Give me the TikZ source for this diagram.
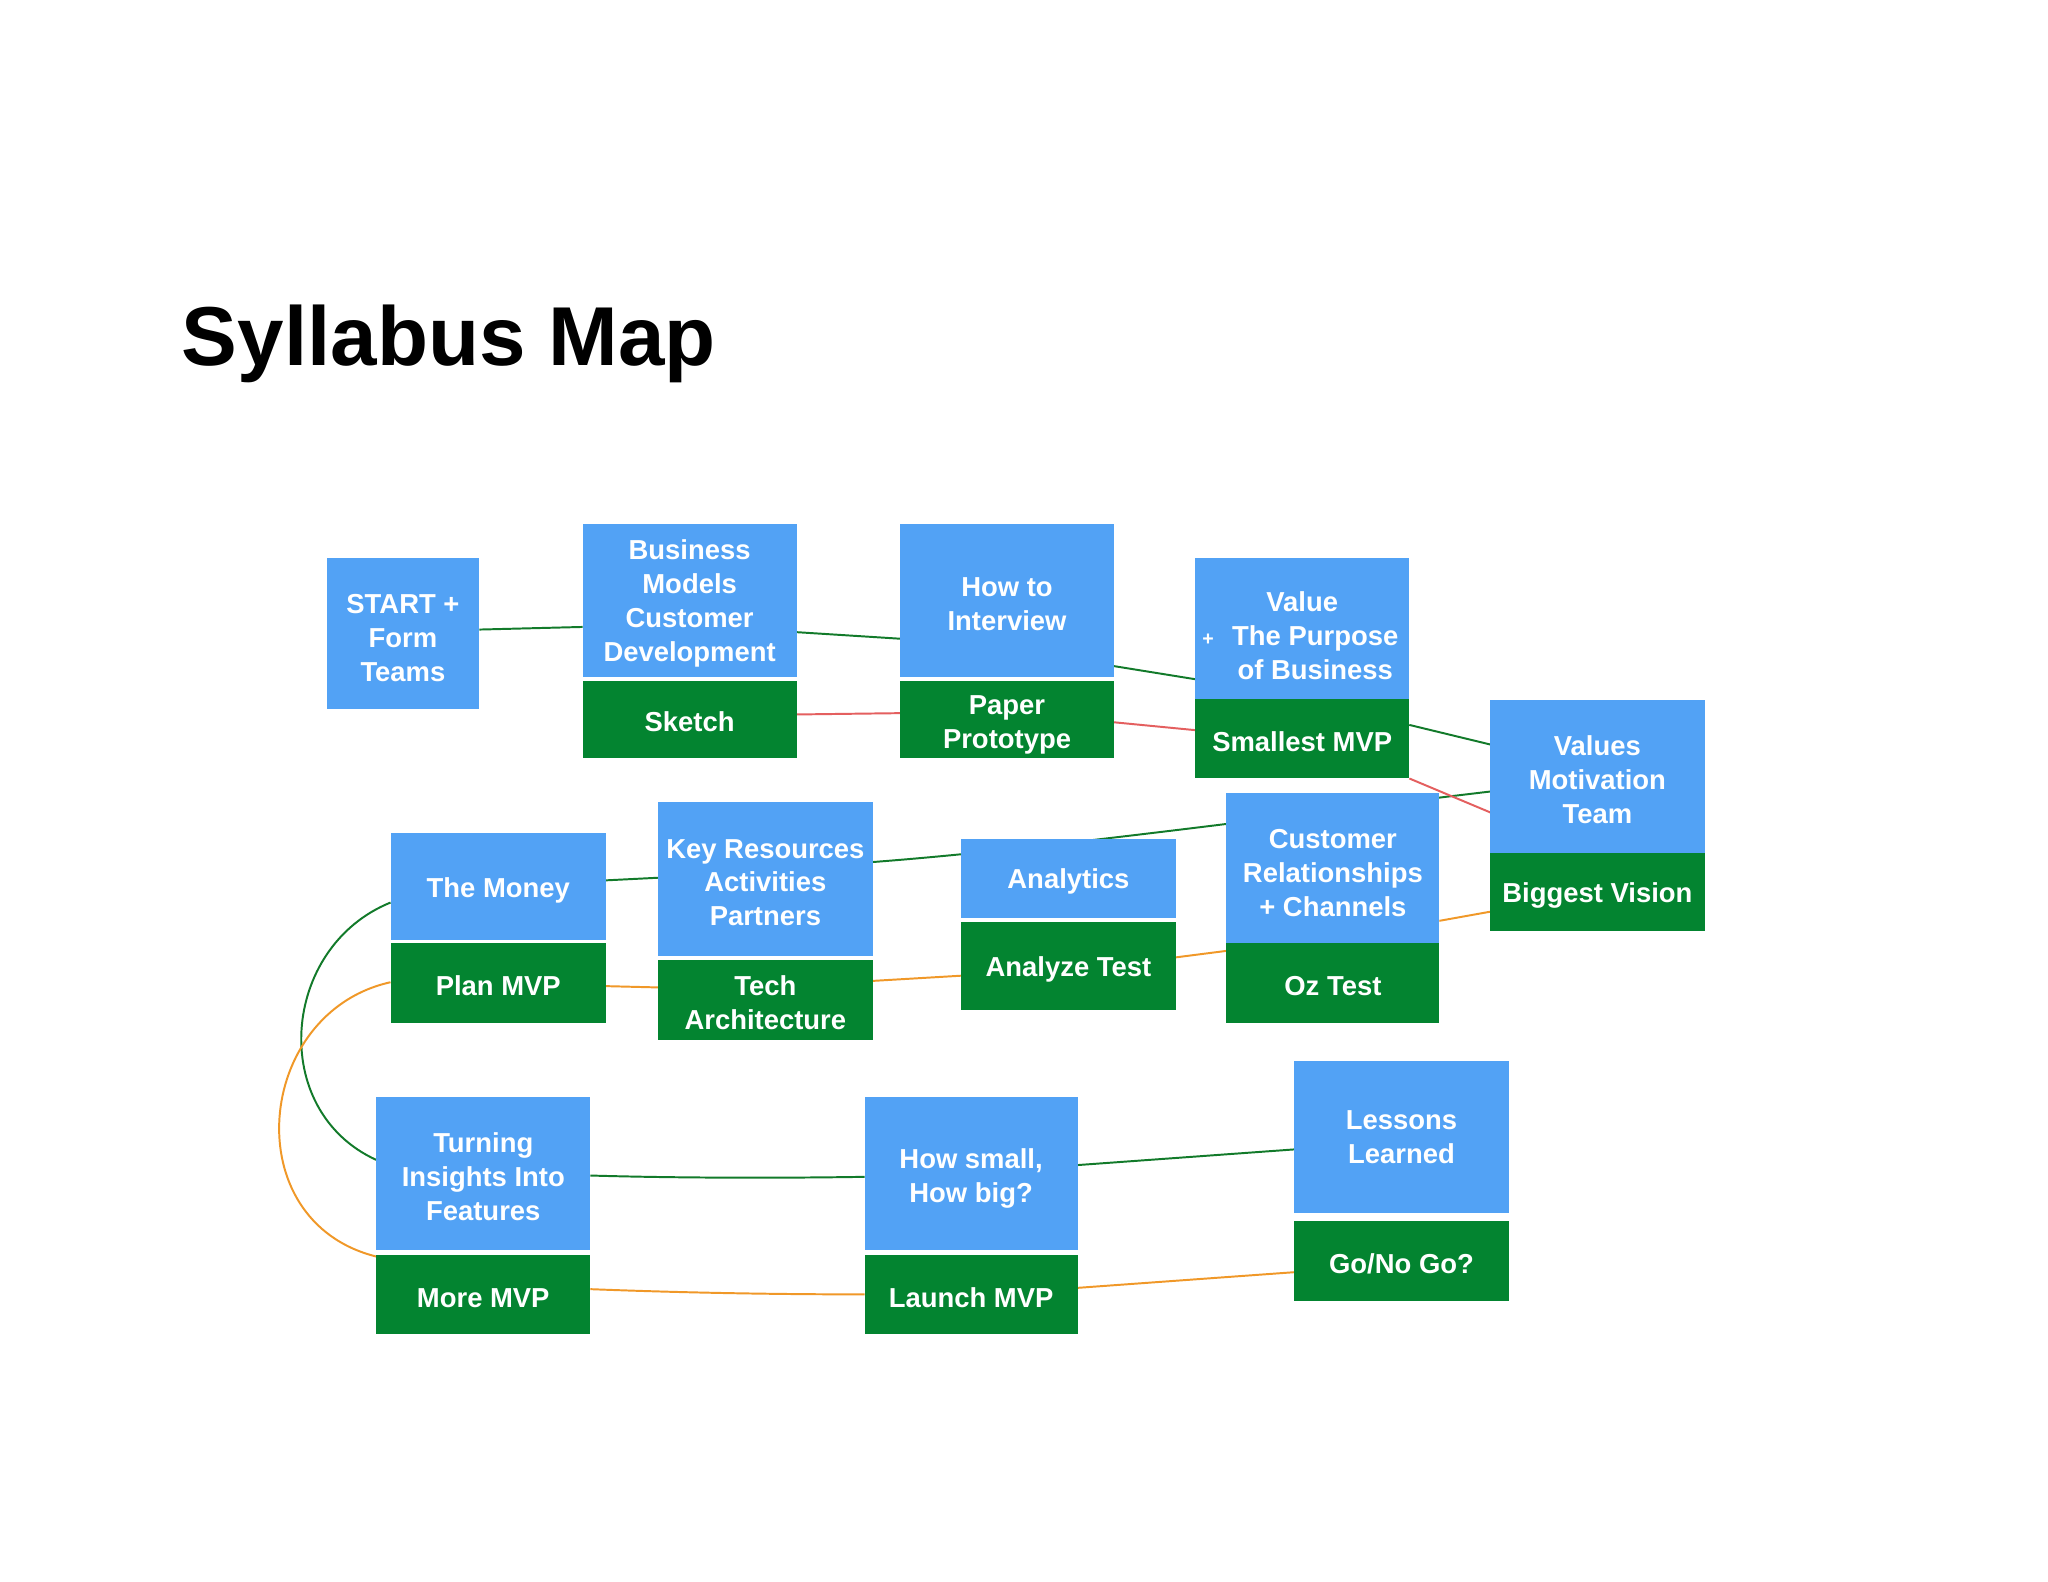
\documentclass[tikz,border=0pt]{standalone}
\usepackage{fontspec}
\setmainfont{Liberation Sans}
\usetikzlibrary{backgrounds}
\definecolor{boxblue}{RGB}{82,162,245}
\definecolor{boxgreen}{RGB}{3,132,48}
\definecolor{lgreen}{RGB}{18,122,42}
\definecolor{lred}{RGB}{228,95,95}
\definecolor{lorange}{RGB}{240,152,40}
\newcommand\boxfnt{\fontsize{21}{26}\selectfont\bfseries}
\newcommand\titlefnt{\fontsize{64}{70}\selectfont\bfseries}
\newcommand\fl[1][20pt]{\rule{0pt}{#1}}
\begin{document}
\begin{tikzpicture}[x=1pt,y=-1pt,
  cell/.style={anchor=north west, inner sep=0pt, outer sep=0pt, text=white, font=\boxfnt, align=center},
  bluecell/.style={cell, fill=boxblue},
  greencell/.style={cell, fill=boxgreen},
  gline/.style={draw=lgreen, line width=1.5pt},
  rline/.style={draw=lred, line width=1.5pt},
  oline/.style={draw=lorange, line width=1.5pt}]
\useasboundingbox (0,0) rectangle (1568,1211);

\node[anchor=base west, inner sep=0pt, font=\titlefnt] (title) at (139,280) {Syllabus Map};

% row 1
\node[bluecell, minimum width=117pt, minimum height=116pt] (start) at (250,427) {\fl[21pt]START +\\Form\\Teams};
\node[bluecell, minimum width=164pt, minimum height=117pt] (bm) at (446,401) {\fl Business\\Models\\Customer\\Development};
\node[greencell, minimum width=164pt, minimum height=59pt] (sketch) at (446,521) {\fl Sketch};
\node[bluecell, minimum width=164pt, minimum height=117pt] (howto) at (689,401) {\fl How to\\Interview};
\node[greencell, minimum width=164pt, minimum height=59pt] (paper) at (689,521) {\fl[23pt]Paper\\Prototype};
\node[bluecell, minimum width=164pt, minimum height=108pt] (value) at (915,427) {\fl[26pt]Value\\\hspace*{20pt}\llap{\fontsize{15}{15}\selectfont +\hspace{14pt}}The Purpose\\\hspace*{20pt}of Business};
\node[greencell, minimum width=164pt, minimum height=61pt] (smallest) at (915,535) {\fl Smallest MVP};
\node[bluecell, minimum width=164pt, minimum height=117pt] (values) at (1141,536) {\fl Values\\Motivation\\Team};
\node[greencell, minimum width=164pt, minimum height=60pt] (biggest) at (1141,653) {\fl Biggest Vision};

% row 2
\node[bluecell, minimum width=163pt, minimum height=115pt] (custrel) at (939,607) {\fl[22pt]Customer\\Relationships\\+ Channels};
\node[greencell, minimum width=163pt, minimum height=61pt] (oz) at (939,722) {\fl Oz Test};
\node[bluecell, minimum width=164pt, minimum height=61pt] (analytics) at (736,642) {\fl Analytics};
\node[greencell, minimum width=164pt, minimum height=67pt] (analyze) at (736,706) {\fl Analyze Test};
\node[bluecell, minimum width=164pt, minimum height=118pt] (keyres) at (504,614) {\fl Key Resources\\Activities\\Partners};
\node[greencell, minimum width=164pt, minimum height=61pt] (tech) at (504,735) {\fl Tech\\Architecture};
\node[bluecell, minimum width=165pt, minimum height=82pt] (money) at (299,638) {\fl The Money};
\node[greencell, minimum width=165pt, minimum height=61pt] (plan) at (299,722) {\fl Plan MVP};

% row 3
\node[bluecell, minimum width=164pt, minimum height=117pt] (turning) at (288,840) {\fl Turning\\Insights Into\\Features};
\node[greencell, minimum width=164pt, minimum height=60pt] (more) at (288,961) {\fl More MVP};
\node[bluecell, minimum width=163pt, minimum height=117pt] (howsmall) at (662,840) {\fl[22pt]How small,\\How big?};
\node[greencell, minimum width=163pt, minimum height=60pt] (launch) at (662,961) {\fl Launch MVP};
\node[bluecell, minimum width=164pt, minimum height=117pt] (lessons) at (991,812) {Lessons\\Learned};
\node[greencell, minimum width=164pt, minimum height=61pt] (gonogo) at (991,935) {\fl Go/No Go?};

\begin{pgfonlayer}{background}
\fill[white] (0,0) rectangle (1568,1211);
% green path
\draw[gline] (start.east |- 0,482) -- (bm.west |- 0,480);
\draw[gline] (bm.east |- 0,484) -- (howto.west |- 0,489);
\draw[gline] (howto.east |- 0,510) -- (value.west |- 0,520);
\draw[gline] (smallest.east |- 0,555) -- (values.west |- 0,570);
\draw[gline] (values.west |- 0,606) .. controls (980,625) and (800,650) .. (keyres.east |- 0,660);
\draw[gline] (keyres.west |- 0,672) -- (money.east |- 0,674);
\draw[gline] (money.west |- 0,691) .. controls (215,725) and (205,850) .. (turning.west |- 0,888);
\draw[gline] (turning.east |- 0,900) .. controls (520,902) and (600,902) .. (howsmall.west |- 0,901);
\draw[gline] (howsmall.east |- 0,892) -- (lessons.west |- 0,880);
% red path
\draw[rline] (sketch.east |- 0,547) -- (paper.west |- 0,546);
\draw[rline] (paper.east |- 0,553) -- (smallest.west |- 0,559);
\draw[rline] (smallest.south east) -- (values.west |- 0,622);
% orange path
\draw[oline] (biggest.west |- 0,698) -- (oz.east |- 0,705);
\draw[oline] (oz.west |- 0,728) -- (analyze.east |- 0,733);
\draw[oline] (analyze.west |- 0,747) -- (tech.east |- 0,751);
\draw[oline] (tech.west |- 0,756) -- (plan.east |- 0,755);
\draw[oline] (plan.west |- 0,752) .. controls (195,775) and (180,935) .. (more.west |- 0,962);
\draw[oline] (more.east |- 0,987) .. controls (530,990) and (600,991) .. (launch.west |- 0,991);
\draw[oline] (launch.east |- 0,986) -- (gonogo.west |- 0,974);
\end{pgfonlayer}
\end{tikzpicture}
\end{document}
